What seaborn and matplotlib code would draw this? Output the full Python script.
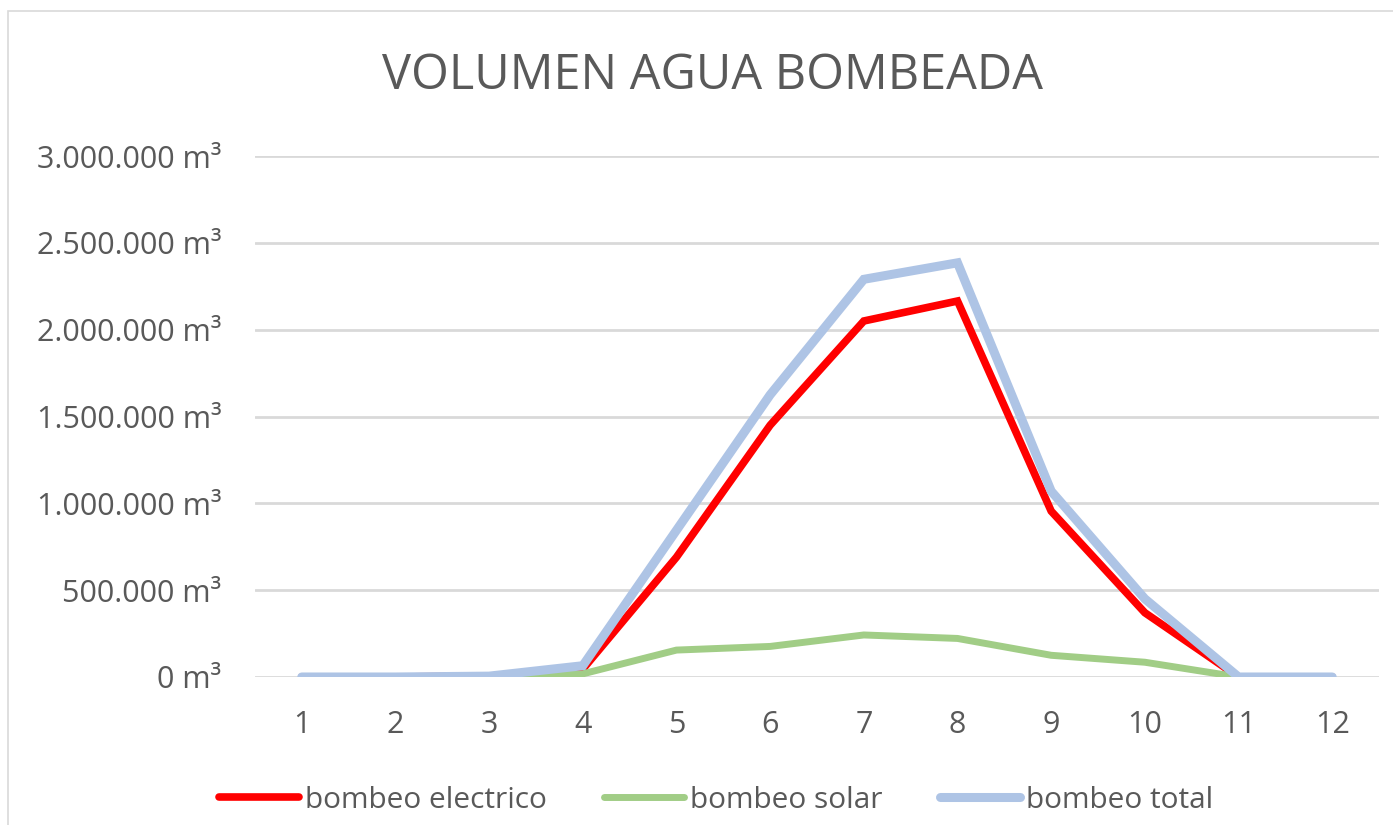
#############################################
########## 1. Import Libraries
#############################################
import pandas as pd
import matplotlib.pyplot as plt
import matplotlib.ticker as mticker
from matplotlib.patches import Rectangle
import seaborn as sns

#############################################
########## 2. Data
#############################################
meses = [1, 2, 3, 4, 5, 6, 7, 8, 9, 10, 11, 12]
bombeo_electrico = [0, 0, 5000, 45000, 690000, 1450000, 2050000, 2165000, 955000, 370000, 0, 0]
bombeo_solar = [0, 0, 0, 18000, 155000, 176000, 242000, 222000, 125000, 85000, 0, 0]
bombeo_total = [0, 0, 5000, 65000, 845000, 1625000, 2290000, 2385000, 1070000, 450000, 0, 0]

series_names = ["bombeo electrico", "bombeo solar", "bombeo total"]
series_colors = ["#ff0000", "#a1cd86", "#aec4e5"]
series_widths = [5.5, 5.0, 6.5]

y_ticks = [0, 500000, 1000000, 1500000, 2000000, 2500000, 3000000]

#############################################
########## 3. Plot
#############################################
sns.set_style("white")
plt.rcParams['font.family'] = ['Open Sans', 'DejaVu Sans']
text_color = "#595959"
grid_color = "#d9d9d9"

fig = plt.figure(figsize=(13.93, 8.25), dpi=100)
ax = fig.add_axes([0.183, 0.1794, 0.807, 0.6315])

# Outer chart border
fig.patches.append(Rectangle((8 / 1393, -0.1), 1.2, 1.1 - 11 / 825, transform=fig.transFigure,
                             fill=False, edgecolor="#d9d9d9", linewidth=1.2, zorder=0))

plot_dataframe = pd.DataFrame({
    "mes": meses,
    "bombeo electrico": bombeo_electrico,
    "bombeo solar": bombeo_solar,
    "bombeo total": bombeo_total,
})

for name, color, lw in zip(series_names, series_colors, series_widths):
    sns.lineplot(data=plot_dataframe, x="mes", y=name, color=color, linewidth=lw,
                 label=name, ax=ax, solid_capstyle="round", solid_joinstyle="miter", zorder=3)

# Axes formatting
ax.set_xlim(0.5, 12.5)
ax.set_ylim(0, 3000000)
ax.set_xticks(meses)
ax.set_yticks(y_ticks)
ax.yaxis.set_major_formatter(mticker.FuncFormatter(lambda v, p: f"{int(v):,}".replace(",", ".") + " m³"))
ax.grid(visible=True, axis="y", color=grid_color, linewidth=2.0)
ax.set_axisbelow(True)
for side in ["top", "right", "left", "bottom"]:
    ax.spines[side].set_visible(False)
ax.tick_params(axis="both", length=0, labelsize=22, labelcolor=text_color)
ax.tick_params(axis="y", pad=24)
ax.tick_params(axis="x", pad=24)
ax.set_xlabel("")
ax.set_ylabel("")

# Title
fig.text(712 / 1393, 1 - 76 / 825, "VOLUMEN AGUA BOMBEADA", ha="center", va="center",
         fontsize=35, color=text_color)

# Legend at the bottom
ax.legend(loc="center", bbox_to_anchor=(716 / 1393, 1 - 800 / 825), bbox_transform=fig.transFigure,
          ncol=3, frameon=False, fontsize=21.5, handlelength=2.7, handletextpad=0.2,
          columnspacing=1.9, labelcolor=text_color)

plt.savefig("out.png", dpi=100)
